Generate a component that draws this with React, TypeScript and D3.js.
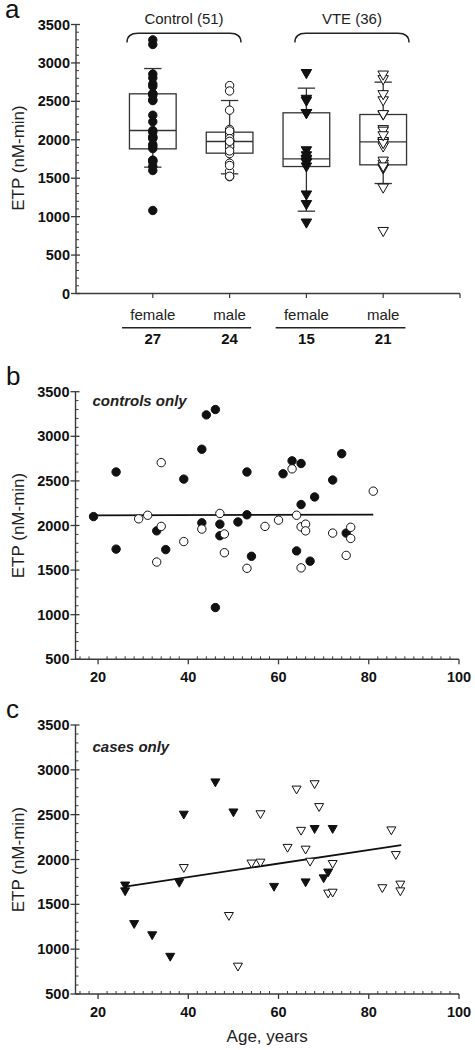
import React from "react";
import * as d3 from "d3";

// ---------- DATA ----------
// Controls (panel b): [age, ETP]
const ctrlFemale: [number, number][] = [
  [19, 2100], [24, 2600], [24, 1735], [33, 1940], [35, 1730], [39, 2520], [43, 2855],
  [43, 2030], [44, 3240], [46, 3300], [46, 1080], [47, 2015], [47, 1885], [51, 2040],
  [53, 2600], [53, 2120], [54, 1655], [61, 2580], [63, 2725], [65, 2695], [65, 2235],
  [64, 1715], [67, 1600], [68, 2320], [72, 2510], [74, 2805], [75, 1915],
];
const ctrlMale: [number, number][] = [
  [29, 2075], [31, 2115], [34, 2705], [34, 1990], [33, 1590], [39, 1820], [43, 1960],
  [47, 2135], [48, 1905], [48, 1695], [53, 1520], [57, 1990], [60, 2060], [63, 2635],
  [64, 2115], [65, 1985], [66, 2015], [66, 1940], [65, 1525], [72, 1915], [76, 1980],
  [76, 1855], [75, 1665], [81, 2385],
];
// Cases (panel c)
const vteFemale: [number, number][] = [
  [26, 1705], [26, 1640], [28, 1275], [32, 1150], [36, 910], [38, 1735], [39, 2495],
  [46, 2855], [50, 2520], [59, 1690], [66, 1740], [68, 2335], [72, 2335], [71, 1850],
  [70, 1785],
];
const vteMale: [number, number][] = [
  [39, 1900], [49, 1365], [51, 800], [54, 1950], [56, 1960], [56, 2500], [62, 2125],
  [64, 2775], [65, 2315], [66, 2105], [67, 1970], [68, 2835], [69, 2580], [71, 1615],
  [72, 1625], [72, 1945], [83, 1675], [85, 2320], [86, 2045], [87, 1715], [87, 1640],
];
// Panel a box statistics: [whiskerLow, q1, median, q3, whiskerHigh]
const boxStats: [number, number, number, number, number][] = [
  [1644, 1882, 2121, 2598, 2927],
  [1557, 1826, 1978, 2099, 2511],
  [1071, 1652, 1752, 2351, 2672],
  [1431, 1674, 1973, 2329, 2750],
];
const categories = ["female", "male", "female", "male"];
const counts = ["27", "24", "15", "21"];
const groups = ["Control (51)", "VTE (36)"];
// Fit lines: [age, ETP] endpoints
const fitControls: [number, number][] = [[19, 2113], [81, 2122]];
const fitCases: [number, number][] = [[26, 1698], [87.2, 2160]];

const yTicksA = d3.range(0, 3501, 500);
const yTicksBC = d3.range(500, 3501, 500);
const xTicksBC = [20, 40, 60, 80, 100];

// ---------- STYLE ----------
const FONT = "'Liberation Sans', Arial, Helvetica, sans-serif";
const AX = "#3a3a3a";

const triPath = (cx: number, cy: number, w: number) => {
  const h = w * 0.87;
  return `M${cx - w / 2},${cy - h / 2}L${cx + w / 2},${cy - h / 2}L${cx},${cy + h / 2}Z`;
};

function YAxis({ y, x0, ticks, minor }: { y: d3.ScaleLinear<number, number>; x0: number; ticks: number[]; minor: number[] }) {
  const [lo, hi] = y.domain();
  return (
    <g>
      <line x1={x0} x2={x0} y1={y(lo)} y2={y(hi)} stroke={AX} strokeWidth={1.4} />
      {minor.map((v) => (
        <line key={"m" + v} x1={x0} x2={x0 + 3} y1={y(v)} y2={y(v)} stroke={AX} strokeWidth={1} />
      ))}
      {ticks.map((v) => (
        <g key={v}>
          <line x1={x0 - 5} x2={x0 + 4} y1={y(v)} y2={y(v)} stroke={AX} strokeWidth={1.3} />
          <text x={x0 - 6} y={y(v) + 5} textAnchor="end" fontFamily={FONT} fontWeight="bold" fontSize={14.5} fill="#111">
            {v}
          </text>
        </g>
      ))}
    </g>
  );
}

function YTitle({ x, cy }: { x: number; cy: number }) {
  return (
    <text transform={`translate(${x},${cy}) rotate(-90)`} textAnchor="middle" fontFamily={FONT} fontSize={17} fill="#222">
      ETP (nM-min)
    </text>
  );
}

function PanelA() {
  const x = d3.scaleLinear().domain([0, 5]).range([76, 460]);
  const y = d3.scaleLinear().domain([0, 3500]).range([293.5, 24.5]);
  const minor = d3.range(0, 3501, 100).filter((v) => v % 500 !== 0);
  const pointSets: [number, number][][] = [ctrlFemale, ctrlMale, vteFemale, vteMale];
  const bw = 0.304;
  const cw = 0.113;
  const braces: [number, number][] = [[0.664, 2.148], [2.85, 4.336]];
  const underLines: [number, number][] = [[0.6, 2.28], [2.6, 4.29]];
  return (
    <g>
      <text x={5} y={18} fontFamily={FONT} fontSize={26} fill="#111">a</text>
      <YTitle x={24} cy={158} />
      {/* boxes */}
      {boxStats.map((s, i) => {
        const cx = x(i + 1);
        const x0 = x(i + 1 - bw);
        const x1 = x(i + 1 + bw);
        return (
          <g key={i} stroke="#333" strokeWidth={1.3} fill="none">
            <rect x={x0} y={y(s[3])} width={x1 - x0} height={y(s[1]) - y(s[3])} fill="white" />
            <line x1={x0} x2={x1} y1={y(s[2])} y2={y(s[2])} />
            <line x1={cx} x2={cx} y1={y(s[3])} y2={y(s[4])} />
            <line x1={cx} x2={cx} y1={y(s[1])} y2={y(s[0])} />
            <line x1={x(i + 1 - cw)} x2={x(i + 1 + cw)} y1={y(s[4])} y2={y(s[4])} />
            <line x1={x(i + 1 - cw)} x2={x(i + 1 + cw)} y1={y(s[0])} y2={y(s[0])} />
          </g>
        );
      })}
      {/* points */}
      {pointSets.map((set, i) =>
        set.map((d, j) => {
          const cx = x(i + 1);
          const cy = y(d[1]);
          if (i < 2)
            return (
              <circle key={i + "-" + j} cx={cx} cy={cy} r={4.2} fill={i === 0 ? "#111" : "white"} stroke="#111" strokeWidth={1} />
            );
          return (
            <path key={i + "-" + j} d={triPath(cx, cy, 10.5)} fill={i === 2 ? "#111" : "white"} stroke="#111" strokeWidth={1} />
          );
        })
      )}
      <YAxis y={y} x0={76} ticks={yTicksA} minor={minor} />
      <line x1={76} x2={460} y1={y(0)} y2={y(0)} stroke={AX} strokeWidth={1.4} />
      {[1, 2, 3, 4, 5].map((v) => (
        <line key={v} x1={x(v)} x2={x(v)} y1={y(0)} y2={y(0) + 4.5} stroke={AX} strokeWidth={1.2} />
      ))}
      {/* braces and group labels */}
      {braces.map((b, i) => {
        const x0 = x(b[0]);
        const x1 = x(b[1]);
        return (
          <g key={i}>
            <path
              d={`M${x0},42.5C${x0},36 ${x0 + 4},33.3 ${x0 + 11},33.3L${x1 - 11},33.3C${x1 - 4},33.3 ${x1},36 ${x1},42.5`}
              fill="none"
              stroke="#222"
              strokeWidth={1.4}
            />
            <text x={(x0 + x1) / 2} y={24} textAnchor="middle" fontFamily={FONT} fontSize={15} fill="#222">
              {groups[i]}
            </text>
          </g>
        );
      })}
      {categories.map((c, i) => (
        <g key={i}>
          <text x={x(i + 1)} y={320} textAnchor="middle" fontFamily={FONT} fontSize={15} fill="#222">{c}</text>
          <text x={x(i + 1)} y={343.5} textAnchor="middle" fontFamily={FONT} fontSize={15} fontWeight="bold" fill="#111">
            {counts[i]}
          </text>
        </g>
      ))}
      {underLines.map((l, i) => (
        <line key={i} x1={x(l[0])} x2={x(l[1])} y1={327.7} y2={327.7} stroke="#222" strokeWidth={1.5} />
      ))}
    </g>
  );
}

function Scatter({
  top, bottom, label, labelY, note, noteY, sets, fit, kind, showXTitle,
}: {
  top: number; bottom: number; label: string; labelY: number; note: string; noteY: number;
  sets: [number, number][][]; fit: [number, number][]; kind: "circle" | "tri"; showXTitle: boolean;
}) {
  const x = d3.scaleLinear().domain([15, 100]).range([75.5, 459]);
  const y = d3.scaleLinear().domain([500, 3500]).range([bottom, top]);
  const minorY = d3.range(500, 3501, 100).filter((v) => v % 500 !== 0);
  const minorX = d3.range(16, 100, 2).filter((v) => v % 20 !== 0);
  const x0 = x(15);
  const line = d3.line<[number, number]>().x((d) => x(d[0])).y((d) => y(d[1]));
  return (
    <g>
      <text x={6} y={labelY} fontFamily={FONT} fontSize={26} fill="#111">{label}</text>
      <YTitle x={24} cy={(top + bottom) / 2} />
      <text x={x(15) + 17} y={noteY} fontFamily={FONT} fontSize={15} fontWeight="bold" fontStyle="italic" fill="#222">
        {note}
      </text>
      <path d={line(fit) || ""} stroke="#111" strokeWidth={1.8} fill="none" />
      {sets.map((set, i) =>
        set.map((d, j) =>
          kind === "circle" ? (
            <circle key={i + "-" + j} cx={x(d[0])} cy={y(d[1])} r={4.2} fill={i === 0 ? "#111" : "white"} stroke="#111" strokeWidth={1} />
          ) : (
            <path key={i + "-" + j} d={triPath(x(d[0]), y(d[1]), 9)} fill={i === 0 ? "#111" : "white"} stroke="#111" strokeWidth={1} />
          )
        )
      )}
      <YAxis y={y} x0={x0} ticks={yTicksBC} minor={minorY} />
      <line x1={x0} x2={x(100)} y1={bottom} y2={bottom} stroke={AX} strokeWidth={1.4} />
      {minorX.map((v) => (
        <line key={"m" + v} x1={x(v)} x2={x(v)} y1={bottom} y2={bottom - 3} stroke={AX} strokeWidth={1} />
      ))}
      {xTicksBC.map((v) => (
        <g key={v}>
          <line x1={x(v)} x2={x(v)} y1={bottom} y2={bottom + 5} stroke={AX} strokeWidth={1.3} />
          <text x={x(v)} y={bottom + 22.7} textAnchor="middle" fontFamily={FONT} fontWeight="bold" fontSize={14.5} fill="#111">
            {v}
          </text>
        </g>
      ))}
      {showXTitle && (
        <text x={(x0 + x(100)) / 2} y={bottom + 47.5} textAnchor="middle" fontFamily={FONT} fontSize={17} fill="#222">
          Age, years
        </text>
      )}
    </g>
  );
}

export default function App() {
  return (
    <>
      <style>{`body{margin:0;background:#fff}`}</style>
      <svg width={475} height={1050} style={{ display: "block", background: "#fff" }}>
        <PanelA />
        <Scatter top={391.7} bottom={659.3} label="b" labelY={385} note="controls only" noteY={405.5}
          sets={[ctrlFemale, ctrlMale]} fit={fitControls} kind="circle" showXTitle={false} />
        <Scatter top={725} bottom={994} label="c" labelY={718} note="cases only" noteY={752}
          sets={[vteFemale, vteMale]} fit={fitCases} kind="tri" showXTitle={true} />
      </svg>
    </>
  );
}
